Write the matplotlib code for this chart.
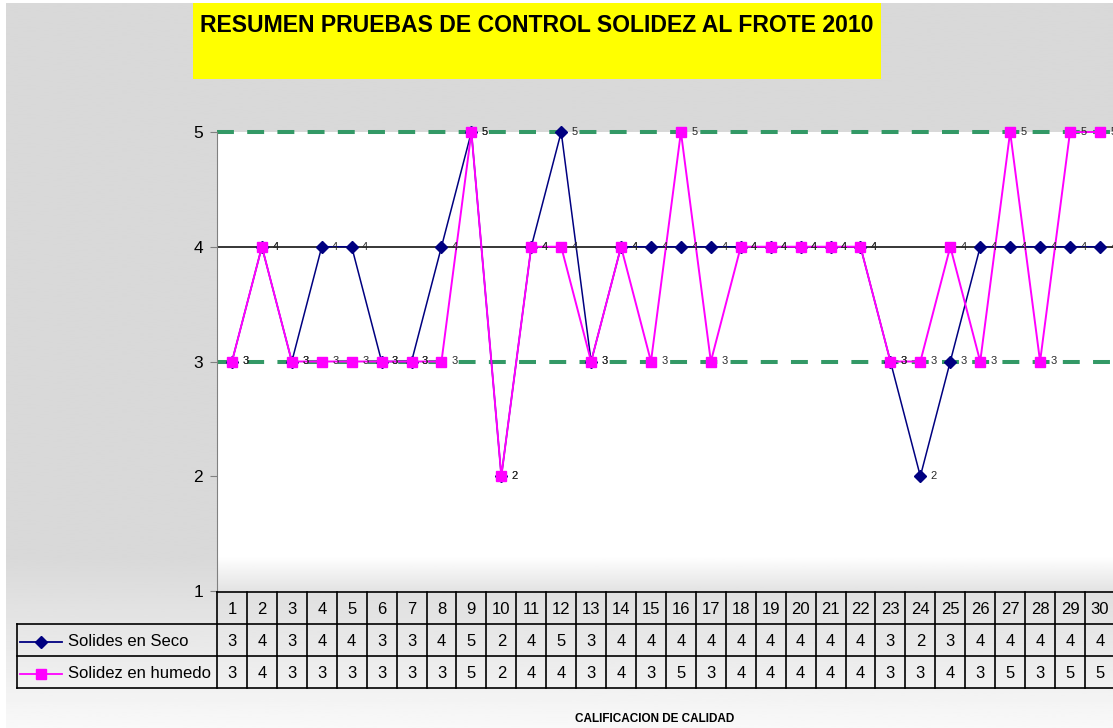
import numpy as np
import matplotlib.pyplot as plt
from matplotlib.patches import Rectangle
from matplotlib.lines import Line2D

plt.rcParams['font.family'] = ['Liberation Sans', 'DejaVu Sans']

# pruebas 1..30
dias = list(range(1, 31))
seco = [3, 4, 3, 4, 4, 3, 3, 4, 5, 2, 4, 5, 3, 4, 4,
        4, 4, 4, 4, 4, 4, 4, 3, 2, 3, 4, 4, 4, 4, 4]
humedo = [3, 4, 3, 3, 3, 3, 3, 3, 5, 2, 4, 4, 3, 4, 3,
          5, 3, 4, 4, 4, 4, 4, 3, 3, 4, 3, 5, 3, 5, 5]
serie_seco = 'Solides en Seco'
serie_humedo = 'Solidez en humedo'
titulo = 'RESUMEN PRUEBAS DE CONTROL SOLIDEZ AL FROTE 2010'
eje_x = 'CALIFICACION DE CALIDAD'
limite_sup, meta, limite_inf = 5, 4, 3
y_ticks = [1, 2, 3, 4, 5]

W, H = 1113, 728
fig = plt.figure(figsize=(W / 100, H / 100), dpi=100)
fig.patch.set_facecolor('white')


def box(x0, y0, x1, y1):
    # pixel box, origin top-left -> figure fraction [l, b, w, h]
    return [x0 / W, 1 - y1 / H, (x1 - x0) / W, (y1 - y0) / H]


# chart area background, gray fading to white at the bottom
bg = fig.add_axes(box(6, 3, W, H), zorder=-10)
filas = np.linspace(3, H, 400)
shade = np.where(filas < 560, 0.851,
                 0.851 + (0.975 - 0.851) * (filas - 560) / (H - 560))
bg.imshow(shade[:, None], cmap='gray', vmin=0, vmax=1, aspect='auto',
          extent=(0, 1, 0, 1))
bg.axis('off')

# title block
tb = box(193, 3, 881, 79)
fig.patches.append(Rectangle(tb[:2], tb[2], tb[3], transform=fig.transFigure,
                             facecolor='#ffff00', edgecolor='none', zorder=-5))
fig.text(200 / W, 1 - 25 / H, titulo, fontsize=16.6, weight='bold', va='center')

col_w = 29.93
x_right = 217 + 30 * col_w

# plot area
ax = fig.add_axes(box(217, 132, x_right, 591))
ax.set_facecolor('white')
grad = np.linspace(1.0, 0.89, 50)[:, None]
ax.imshow(grad, extent=(0, 1, 0, 0.075), transform=ax.transAxes, cmap='gray',
          vmin=0, vmax=1, aspect='auto', zorder=0)

x = np.array(dias)
for nivel in (limite_sup, limite_inf):
    ax.axhline(nivel, color='#339966', lw=2.9, ls=(0, (4.2, 3.3)), zorder=2,
               clip_on=False)
ax.axhline(meta, color='black', lw=1.1, zorder=2)

ax.plot(x, seco, color='#000080', marker='D', ms=6.5, lw=1.1, zorder=3,
        clip_on=False)
ax.plot(x, humedo, color='#ff00ff', marker='s', ms=7, lw=1.4, zorder=4,
        clip_on=False)
for serie in (seco, humedo):
    for xi, v in zip(x, serie):
        ax.annotate(str(v), (xi, v), xytext=(7.5, 0), textcoords='offset points',
                    va='center', ha='left', fontsize=8, color='#2a2a2a',
                    zorder=5, annotation_clip=False)

ax.set_xlim(0.5, 30.5)
ax.set_ylim(1, 5)
ax.set_yticks(y_ticks)
ax.set_xticks([])
for s in ('top', 'right', 'bottom'):
    ax.spines[s].set_visible(False)
ax.spines['left'].set_color('#808080')
ax.spines['left'].set_linewidth(0.8)
ax.spines['left'].set_linestyle((0, (1, 1)))
ax.tick_params(axis='y', direction='out', length=5, color='#808080',
               labelsize=12.5, pad=5)

# data table under the chart
tab = fig.add_axes(box(17, 592, x_right, 688))
lab_w = 200 / col_w
x0 = 0.5 - lab_w
tab.set_xlim(x0, 30.5)
tab.set_ylim(3, 0)
tab.axis('off')
lw_t = 1.2
tab.plot([0.5, 30.5], [0, 0], color='black', lw=lw_t, clip_on=False)
for r in (1, 2, 3):
    tab.plot([x0, 30.5], [r, r], color='black', lw=lw_t, clip_on=False)
for d in range(31):
    tab.plot([d + 0.5, d + 0.5], [0, 3], color='black', lw=lw_t, clip_on=False)
tab.plot([x0, x0], [1, 3], color='black', lw=lw_t, clip_on=False)

for d, s, h in zip(dias, seco, humedo):
    tab.text(d, 0.55, str(d), ha='center', va='center', fontsize=12)
    tab.text(d, 1.55, str(s), ha='center', va='center', fontsize=12)
    tab.text(d, 2.55, str(h), ha='center', va='center', fontsize=12)

claves = [(serie_seco, '#000080', 'D', 6), (serie_humedo, '#ff00ff', 's', 7)]
for r, (nombre, color, mk, ms) in enumerate(claves, start=1):
    yc = r + 0.55
    tab.add_line(Line2D([x0 + 3 / col_w, x0 + 45 / col_w], [yc, yc],
                        color=color, lw=1.3))
    tab.add_line(Line2D([x0 + 24 / col_w], [yc], color=color, marker=mk, ms=ms))
    tab.text(x0 + 51 / col_w, yc, nombre, ha='left', va='center', fontsize=12)

fig.text(655 / W, 1 - 719 / H, eje_x, fontsize=8.5, weight='bold',
         ha='center', va='center')

fig.savefig('out.png', dpi=100)
